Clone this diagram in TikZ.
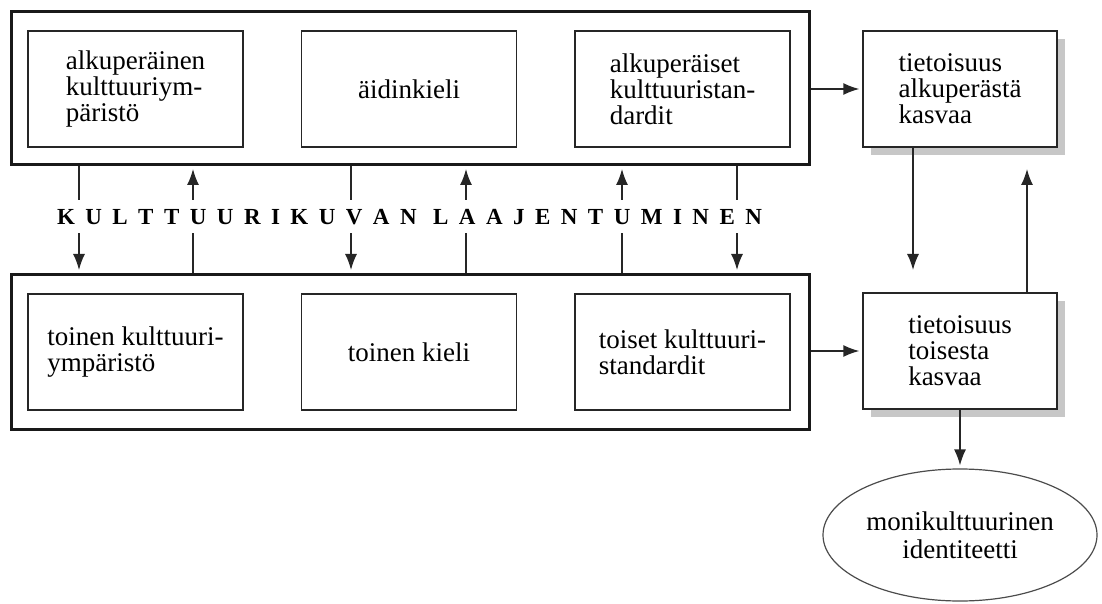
\documentclass[tikz,border=0pt]{standalone}
\usepackage{fontspec}
\setmainfont{Liberation Serif}
\usetikzlibrary{arrows.meta,shapes.geometric,shadows}

\begin{document}
\begin{tikzpicture}[x=0.5pt,y=-0.5pt,>={Latex[length=8pt,width=6pt]},->,shorten >=1.5pt,draw=black!85,line width=0.7pt]
    \tikzstyle{laatikko}=[rectangle,draw=black!85,line width=0.7pt,minimum width=107.5pt,minimum height=58pt,inner sep=0pt,align=left,font=\fontsize{13.5}{13}\selectfont]
    \tikzstyle{kehys}=[rectangle,draw=black!90,line width=1.5pt,minimum width=399pt,minimum height=76.5pt,inner sep=0pt]
    \tikzstyle{tieto}=[laatikko,minimum width=97pt,fill=white,drop shadow={shadow xshift=4pt,shadow yshift=-4pt,fill=black!22,opacity=1}]
    \tikzstyle{soikio}=[ellipse,draw=black!70,line width=0.6pt,minimum width=137pt,minimum height=66pt,inner sep=0pt,align=center,font=\fontsize{13.5}{14}\selectfont]

    \useasboundingbox (0,0) rectangle (1102,604);

    \node[kehys] (alku) at (410.5,88) {};
    \node[kehys,minimum height=77.5pt] (toinen) at (410.5,352) {};

    \node[laatikko] (A-1) at (135.5,89) {alkuperäinen\\kulttuuriym-\\päristö};
    \node[laatikko] (A-2) at (409,89) {äidinkieli};
    \node[laatikko] (A-3) at (682.5,89) {alkuperäiset\\kulttuuristan-\\dardit};

    \node[laatikko] (T-1) at (135.5,352) {toinen kulttuuri-\\ympäristö};
    \node[laatikko] (T-2) at (409,352) {toinen kieli};
    \node[laatikko] (T-3) at (682.5,352) {toiset kulttuuri-\\standardit};

    \node[tieto] (tieto-1) at (960,89) {tietoisuus\\alkuperästä\\kasvaa};
    \node[tieto] (tieto-2) at (960,351) {tietoisuus\\toisesta\\kasvaa};
    \node[soikio] (identiteetti) at (960,535) {monikulttuurinen\\identiteetti};

    \foreach \x in {79,351,737}
    \draw (alku.south -| \x,0) -- (toinen.north -| \x,0);
    \foreach \x in {193,466,622}
    \draw (toinen.north -| \x,0) -- (alku.south -| \x,0);

    \node[fill=white,inner sep=0pt,minimum height=16.5pt,font=\fontsize{11.5}{11.5}\selectfont\bfseries] (kuva) at (409.5,217)
    {\makebox[352.5pt][s]{K U L T T U U R I K U V A N\hspace{3pt} L A A J E N T U M I N E N}};

    \draw (alku.east |- tieto-1) -- (tieto-1);
    \draw (toinen.east |- tieto-2) -- (tieto-2);
    \draw (tieto-1.south -| 913,0) -- (toinen.north -| 913,0);
    \draw (tieto-2.north -| 1027,0) -- (alku.south -| 1027,0);
    \draw (tieto-2) -- (identiteetti);
\end{tikzpicture}
\end{document}
